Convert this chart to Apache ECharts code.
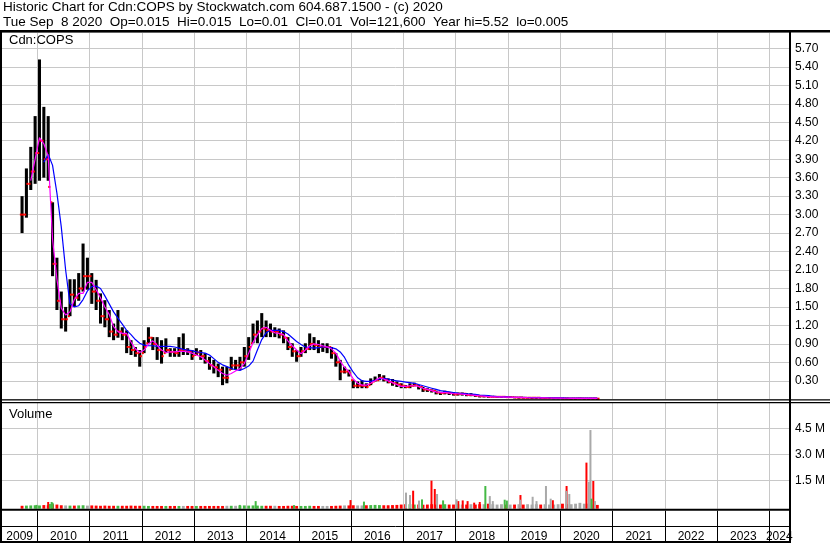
<!DOCTYPE html>
<html><head><meta charset="utf-8">
<script src="https://cdn.jsdelivr.net/npm/echarts@6/dist/echarts.min.js"></script>
<style>html,body{margin:0;padding:0;background:#fff}#c{width:830px;height:543px}</style>
</head><body><div id="c"></div>
<script>
// ---------- DATA ----------
const titleLine1 = 'Historic Chart for Cdn:COPS by Stockwatch.com 604.687.1500 - (c) 2020';
const titleLine2 = 'Tue Sep  8 2020  Op=0.015  Hi=0.015  Lo=0.01  Cl=0.01  Vol=121,600  Year hi=5.52  lo=0.005';
const symbolLabel = 'Cdn:COPS';
const volumeLabel = 'Volume';

const months = [
'2009-09','2009-10','2009-11','2009-12',
'2010-01','2010-02','2010-03','2010-04','2010-05','2010-06','2010-07','2010-08','2010-09','2010-10','2010-11','2010-12',
'2011-01','2011-02','2011-03','2011-04','2011-05','2011-06','2011-07','2011-08','2011-09','2011-10','2011-11','2011-12',
'2012-01','2012-02','2012-03','2012-04','2012-05','2012-06','2012-07','2012-08','2012-09','2012-10','2012-11','2012-12',
'2013-01','2013-02','2013-03','2013-04','2013-05','2013-06','2013-07','2013-08','2013-09','2013-10','2013-11','2013-12',
'2014-01','2014-02','2014-03','2014-04','2014-05','2014-06','2014-07','2014-08','2014-09','2014-10','2014-11','2014-12',
'2015-01','2015-02','2015-03','2015-04','2015-05','2015-06','2015-07','2015-08','2015-09','2015-10','2015-11','2015-12',
'2016-01','2016-02','2016-03','2016-04','2016-05','2016-06','2016-07','2016-08','2016-09','2016-10','2016-11','2016-12',
'2017-01','2017-02','2017-03','2017-04','2017-05','2017-06','2017-07','2017-08','2017-09','2017-10','2017-11','2017-12',
'2018-01','2018-02','2018-03','2018-04','2018-05','2018-06','2018-07','2018-08','2018-09','2018-10','2018-11','2018-12',
'2019-01','2019-02','2019-03','2019-04','2019-05','2019-06','2019-07','2019-08','2019-09','2019-10','2019-11','2019-12',
'2020-01','2020-02','2020-03','2020-04','2020-05','2020-06','2020-07','2020-08','2020-09'];

const lows = [2.70,2.95,3.40,3.50, 3.55,3.60,3.55,2.00,1.45,1.15,1.10,1.35,1.50,1.60,1.75,1.78,
1.55,1.45,1.23,1.17,1.01,0.96,1.00,0.96,0.75,0.72,0.69,0.53,
0.75,0.91,0.80,0.64,0.58,0.75,0.69,0.69,0.69,0.72,0.72,0.64,
0.72,0.64,0.58,0.48,0.42,0.36,0.23,0.26,0.48,0.48,0.48,0.53,
0.64,0.91,0.91,1.01,1.01,1.01,1.01,0.99,0.91,0.80,0.69,0.61,
0.69,0.75,0.80,0.80,0.75,0.77,0.75,0.66,0.53,0.31,0.42,0.37,
0.18,0.18,0.18,0.18,0.23,0.29,0.31,0.29,0.26,0.22,0.20,0.18,
0.18,0.18,0.21,0.16,0.12,0.12,0.11,0.08,0.07,0.08,0.07,0.06,
0.06,0.06,0.05,0.05,0.04,0.03,0.03,0.025,0.03,0.03,0.03,0.025,
0.025,0.025,0.02,0.02,0.02,0.02,0.02,0.015,0.015,0.015,0.015,0.015,
0.01,0.01,0.01,0.01,0.01,0.01,0.01,0.01,0.01];
const highs = [3.30,3.75,4.10,4.60, 5.52,4.75,4.60,3.20,2.30,1.75,1.50,1.95,1.95,2.05,2.53,2.30,
2.05,1.94,1.72,1.61,1.45,1.23,1.45,1.17,1.12,0.96,0.85,0.80,
0.96,1.17,1.01,1.01,0.96,0.99,0.83,0.83,1.01,1.07,0.83,0.80,
0.83,0.80,0.75,0.69,0.64,0.58,0.53,0.53,0.69,0.64,0.69,0.85,
1.01,1.23,1.28,1.40,1.28,1.23,1.17,1.15,1.12,1.01,0.91,0.80,
0.85,0.91,1.07,1.01,0.96,0.91,0.91,0.85,0.75,0.64,0.53,0.48,
0.31,0.29,0.31,0.26,0.34,0.37,0.41,0.39,0.34,0.33,0.29,0.26,
0.23,0.26,0.27,0.23,0.20,0.18,0.16,0.14,0.12,0.14,0.12,0.11,
0.11,0.11,0.10,0.10,0.08,0.07,0.07,0.06,0.055,0.05,0.05,0.045,
0.05,0.04,0.035,0.035,0.035,0.03,0.03,0.03,0.03,0.03,0.025,0.025,
0.025,0.025,0.02,0.02,0.025,0.02,0.02,0.02,0.015];
const closes = [3.00,3.50,3.70,4.00, 4.20,3.90,3.45,2.20,1.60,1.30,1.30,1.70,1.65,1.80,2.00,2.00,
1.75,1.60,1.35,1.30,1.10,1.05,1.10,1.05,0.85,0.80,0.75,0.70,
0.85,1.00,0.90,0.80,0.70,0.80,0.77,0.75,0.80,0.80,0.78,0.70,
0.76,0.70,0.62,0.55,0.52,0.48,0.35,0.35,0.55,0.55,0.60,0.70,
0.85,1.05,1.10,1.15,1.12,1.10,1.10,1.05,1.00,0.85,0.78,0.70,
0.78,0.82,0.90,0.88,0.85,0.85,0.85,0.75,0.60,0.45,0.45,0.42,
0.22,0.22,0.22,0.20,0.27,0.31,0.35,0.32,0.28,0.26,0.24,0.22,
0.20,0.22,0.23,0.20,0.16,0.15,0.14,0.11,0.10,0.11,0.10,0.08,
0.09,0.09,0.07,0.07,0.06,0.05,0.05,0.04,0.04,0.04,0.04,0.035,
0.035,0.03,0.03,0.025,0.025,0.025,0.025,0.02,0.02,0.02,0.02,0.02,
0.015,0.015,0.015,0.015,0.015,0.015,0.015,0.015,0.01];

const maFast = [null,null,3.55,3.90,4.25,4.15,3.95,2.60,1.95,1.48,
1.37,1.42,1.62,1.72,1.72,1.90,1.90,1.78,1.65,1.50,
1.38,1.18,1.10,1.07,1.07,0.93,0.82,0.76,0.80,0.90,
0.95,0.88,0.80,0.76,0.77,0.77,0.78,0.78,0.77,0.75,
0.72,0.69,0.64,0.58,0.53,0.47,0.42,0.39,0.42,0.46,
0.50,0.58,0.75,0.92,1.05,1.15,1.17,1.12,1.08,1.07,
1.05,0.95,0.87,0.80,0.74,0.80,0.87,0.90,0.89,0.87,
0.85,0.82,0.75,0.62,0.52,0.45,0.33,0.26,0.23,0.23,
0.26,0.30,0.35,0.33,0.30,0.27,0.24,0.21,0.21,0.22,
0.22,0.21,0.18,0.16,0.14,0.12,0.11,0.11,0.10,0.09,
0.09,0.085,0.075,0.07,0.065,0.055,0.05,0.045,0.04,0.04,
0.04,0.035,0.035,0.032,0.03,0.028,0.026,0.025,0.025,0.023,
0.022,0.021,0.02,0.02,0.018,0.017,0.016,0.016,0.016,0.015,
0.015,0.015,0.014];
const maSlow = [null,null,null,null,null,3.85,3.98,3.80,3.35,2.80,
2.10,1.55,1.50,1.52,1.62,1.76,1.83,1.84,1.80,1.68,
1.55,1.42,1.32,1.22,1.12,1.05,0.97,0.91,0.88,0.87,
0.87,0.86,0.86,0.86,0.86,0.85,0.83,0.81,0.80,0.79,
0.77,0.76,0.75,0.72,0.66,0.60,0.56,0.53,0.50,0.48,
0.47,0.50,0.54,0.62,0.80,0.97,1.08,1.12,1.12,1.12,
1.10,1.06,1.00,0.94,0.89,0.85,0.84,0.83,0.84,0.85,
0.85,0.84,0.82,0.77,0.68,0.55,0.44,0.35,0.30,0.29,
0.29,0.31,0.33,0.34,0.33,0.31,0.30,0.29,0.28,0.27,
0.26,0.24,0.22,0.20,0.18,0.16,0.14,0.13,0.12,0.11,
0.10,0.095,0.09,0.085,0.08,0.07,0.065,0.06,0.05,0.045,
0.04,0.04,0.035,0.033,0.031,0.03,0.029,0.028,0.027,0.026,
0.025,0.025,0.024,0.023,0.022,0.021,0.02,0.02,0.02,0.019,
0.019,0.018,0.018];

// typical daily volume per month (millions)
const volBase = [0.03,0.04,0.05,0.06, 0.05,0.07,0.06,0.12,0.10,0.06,0.05,0.04,0.04,0.05,0.06,0.04,
0.05,0.04,0.03,0.04,0.03,0.03,0.03,0.03,0.03,0.04,0.03,0.03,
0.03,0.02,0.02,0.02,0.02,0.02,0.02,0.02,0.02,0.02,0.02,0.02,
0.02,0.02,0.02,0.02,0.02,0.02,0.02,0.03,0.03,0.03,0.04,0.05,
0.04,0.05,0.04,0.03,0.03,0.03,0.03,0.02,0.02,0.03,0.03,0.02,
0.02,0.02,0.03,0.02,0.02,0.02,0.02,0.02,0.03,0.04,0.05,0.05,
0.06,0.05,0.05,0.06,0.07,0.08,0.07,0.06,0.06,0.07,0.08,0.10,
0.12,0.12,0.10,0.10,0.09,0.10,0.12,0.10,0.10,0.12,0.10,0.10,
0.12,0.10,0.10,0.12,0.10,0.12,0.12,0.15,0.12,0.10,0.12,0.10,
0.10,0.10,0.12,0.10,0.12,0.10,0.12,0.10,0.12,0.10,0.10,0.12,
0.15,0.12,0.12,0.15,0.20,0.15,0.15,0.10,0.08];

// individual high-volume days (millions)
const volUpDates   = ['2009-12-27','2010-03-30','2010-04-11','2010-04-18','2013-11-15','2014-03-06','2014-11-29','2016-03-31','2017-05-11','2017-10-05','2018-07-27','2018-12-09','2018-12-24','2020-08-07'];
const volUpValues  = [0.08,0.13,0.25,0.20,0.08,0.30,0.07,0.27,0.40,0.34,1.17,0.38,0.33,0.44];
const volDownDates = ['2010-03-18','2015-12-28','2017-03-10','2017-07-16','2017-08-08','2018-01-19','2018-02-19','2018-03-25','2018-05-10','2018-06-18','2019-03-29','2019-11-10','2020-02-14','2020-07-02','2020-08-19'];
const volDownValues= [0.25,0.36,0.90,1.48,1.00,0.30,0.34,0.30,0.21,0.25,0.65,0.35,1.17,2.52,1.46];
const volFlatDates = ['2017-01-19','2017-02-16','2017-04-20','2017-08-24','2018-01-07','2018-08-27','2018-09-17','2019-03-27','2019-06-22','2019-07-19','2019-09-23','2019-10-26','2020-02-12','2020-03-04','2020-07-19','2020-07-30','2020-08-30'];
const volFlatValues= [0.79,0.65,0.33,0.71,0.40,0.59,0.30,0.38,0.55,0.30,1.17,0.44,0.89,0.71,1.42,4.40,0.30];

const yearTicks = [2010,2011,2012,2013,2014,2015,2016,2017,2018,2019,2020,2021,2022,2023,2024];
const volumeTicks = [1.5,3.0,4.5];

// ---------- LAYOUT ----------
const FONT = '"Liberation Sans", Arial, sans-serif';
const X_MIN = 2009.325, X_MAX = 2024.373;
const P_MAX = 5.966;
const V_MIN = -0.1385, V_MAX = 5.96;

function decYear(s){
  const p = s.split('-').map(Number);
  if (p.length === 2) return p[0] + (p[1]-0.5)/12;
  const a = Date.UTC(p[0],0,1), b = Date.UTC(p[0]+1,0,1);
  return p[0] + (Date.UTC(p[0],p[1]-1,p[2]) - a)/(b - a);
}
const monthT = months.map(decYear);
const labelPos = [ (X_MIN + 2010)/2 ].concat(yearTicks.slice(0,-1).map(y => y + 0.5)).concat([(2024 + X_MAX)/2]);

// open of each monthly bar = previous month's close
const ohlcData = monthT.map((t,i) => [t, lows[i], highs[i], closes[i], i === 0 ? closes[i] : closes[i-1]]);
const fastData = monthT.map((t,i) => [t, maFast[i]]);
const slowData = monthT.map((t,i) => [t, maSlow[i]]);
const baseData = monthT.map((t,i) => [t, volBase[i], i === 0 ? 0 : (closes[i] > closes[i-1] ? 1 : (closes[i] < closes[i-1] ? 0 : 2))]);
const toPairs = (d, v) => d.map((s,i) => [decYear(s), v[i]]);

const RED = '#ff0000', GREEN = '#44b944', GRAY = '#a9a9a9';

function renderOhlc(params, api){
  const t = api.value(0), lo = api.value(1), hi = api.value(2), cl = api.value(3), op = api.value(4);
  const a = api.coord([t, hi]), b = api.coord([t, lo]), c = api.coord([t, cl]), o = api.coord([t, op]);
  const w = api.size([1/12, 0])[0];
  const bw = Math.max(1, w*0.7);
  return {type:'group', children:[
    {type:'rect', shape:{x:a[0]-bw/2, y:a[1], width:bw, height:Math.max(1.5, b[1]-a[1])}, style:{fill:'#000'}},
    {type:'rect', shape:{x:o[0]-w/2, y:Math.min(Math.max(o[1], a[1]), b[1])-1, width:w*0.45, height:2}, style:{fill:RED}},
    {type:'rect', shape:{x:c[0], y:c[1]-1, width:w*0.5, height:2}, style:{fill:RED}}
  ]};
}
function volRender(color, monthly){
  return function(params, api){
    const t = api.value(0), v = api.value(1);
    const top = api.coord([t, v]), bot = api.coord([t, V_MIN]);
    const w = monthly ? Math.max(1, api.size([1/12, 0])[0] - 1.5) : 2;
    const fill = monthly ? [RED, GREEN, GRAY][api.value(2)] : color;
    return {type:'rect', shape:{x:top[0]-w/2, y:top[1], width:w, height:bot[1]-top[1]}, style:{fill:fill}};
  };
}

const gridLine = {show:true, lineStyle:{color:'#c8c8c8', width:1}};
const hiddenX = (gi) => ({type:'value', gridIndex:gi, min:X_MIN, max:X_MAX,
  axisLine:{show:false}, axisTick:{show:false, customValues:yearTicks}, axisLabel:{show:false}, splitLine:gridLine});

const chart = echarts.init(document.getElementById('c'), null, {renderer:'canvas'});
chart.setOption({
  animation:false,
  backgroundColor:'#fff',
  grid:[
    {left:2, right:41, top:32, height:367.3},
    {left:2, right:41, top:403, height:105.7},
    {left:2, right:41, top:510.7, height:16}
  ],
  xAxis:[
    hiddenX(0), hiddenX(1),
    {type:'value', gridIndex:2, min:X_MIN, max:X_MAX, position:'bottom',
      axisLine:{show:true, onZero:false, lineStyle:{color:'#000', width:1}},
      axisTick:{show:true, customValues:yearTicks, length:15, inside:false, lineStyle:{color:'#000', width:1}},
      axisLabel:{show:true, customValues:labelPos, formatter:v => String(Math.floor(v)), margin:4,
        fontSize:12, fontFamily:FONT, color:'#000', hideOverlap:false},
      splitLine:{show:true, lineStyle:{color:'#000', width:1}}}
  ],
  yAxis:[
    {type:'value', gridIndex:0, position:'right', min:0, max:P_MAX, interval:0.3,
      axisLine:{show:false}, axisTick:{show:false},
      axisLabel:{margin:6, fontSize:12, fontFamily:FONT, color:'#000',
        formatter:v => (v > 0.01 && Math.abs(v/0.3 - Math.round(v/0.3)) < 1e-4) ? v.toFixed(2) : ''},
      splitLine:gridLine},
    {type:'value', gridIndex:1, position:'right', min:V_MIN, max:V_MAX,
      axisLine:{show:false}, axisTick:{show:false, customValues:volumeTicks},
      axisLabel:{margin:6, fontSize:12, fontFamily:FONT, color:'#000', customValues:volumeTicks,
        formatter:v => v.toFixed(1) + ' M'},
      splitLine:gridLine},
    {type:'value', gridIndex:2, min:0, max:1, show:false}
  ],
  series:[
    {type:'custom', name:'price', xAxisIndex:0, yAxisIndex:0, renderItem:renderOhlc, data:ohlcData, z:2},
    {type:'line', name:'ma slow', xAxisIndex:0, yAxisIndex:0, data:slowData, showSymbol:false, symbol:'none',
      lineStyle:{color:'#0000ff', width:1.2}, z:3, connectNulls:false},
    {type:'line', name:'ma fast', xAxisIndex:0, yAxisIndex:0, data:fastData, showSymbol:false, symbol:'none',
      lineStyle:{color:'#ff00ff', width:1.2}, z:4, connectNulls:false},
    {type:'custom', name:'vol base', xAxisIndex:1, yAxisIndex:1, renderItem:volRender(null, true), data:baseData, z:2},
    {type:'custom', name:'vol down', xAxisIndex:1, yAxisIndex:1, renderItem:volRender(RED, false), data:toPairs(volDownDates, volDownValues), z:3},
    {type:'custom', name:'vol flat', xAxisIndex:1, yAxisIndex:1, renderItem:volRender(GRAY, false), data:toPairs(volFlatDates, volFlatValues), z:4},
    {type:'custom', name:'vol up', xAxisIndex:1, yAxisIndex:1, renderItem:volRender(GREEN, false), data:toPairs(volUpDates, volUpValues), z:5}
  ],
  graphic:[
    {type:'text', x:3, y:7.7, style:{text:titleLine1, font:'13.5px ' + FONT, fill:'#000', textVerticalAlign:'middle'}},
    {type:'text', x:3, y:22.5, style:{text:titleLine2, font:'13.5px ' + FONT, fill:'#000', textVerticalAlign:'middle'}},
    {type:'text', x:9, y:40.7, z:10, style:{text:symbolLabel, font:'13px ' + FONT, fill:'#000', textVerticalAlign:'middle'}},
    {type:'text', x:9, y:414, z:10, style:{text:volumeLabel, font:'13px ' + FONT, fill:'#000', textVerticalAlign:'middle'}},
    {type:'rect', z:20, shape:{x:0, y:30, width:830, height:2.6}, style:{fill:'#000'}},
    {type:'rect', z:20, shape:{x:0, y:30, width:2, height:513}, style:{fill:'#000'}},
    {type:'rect', z:20, shape:{x:789, y:30, width:2, height:513}, style:{fill:'#000'}},
    {type:'rect', z:20, shape:{x:0, y:399.3, width:830, height:1.2}, style:{fill:'#000'}},
    {type:'rect', z:20, shape:{x:0, y:402, width:830, height:1.2}, style:{fill:'#000'}},
    {type:'rect', z:20, shape:{x:0, y:508.7, width:791, height:2}, style:{fill:'#000'}},
    {type:'rect', z:20, shape:{x:0, y:541, width:791, height:2}, style:{fill:'#000'}}
  ]
});
</script></body></html>
